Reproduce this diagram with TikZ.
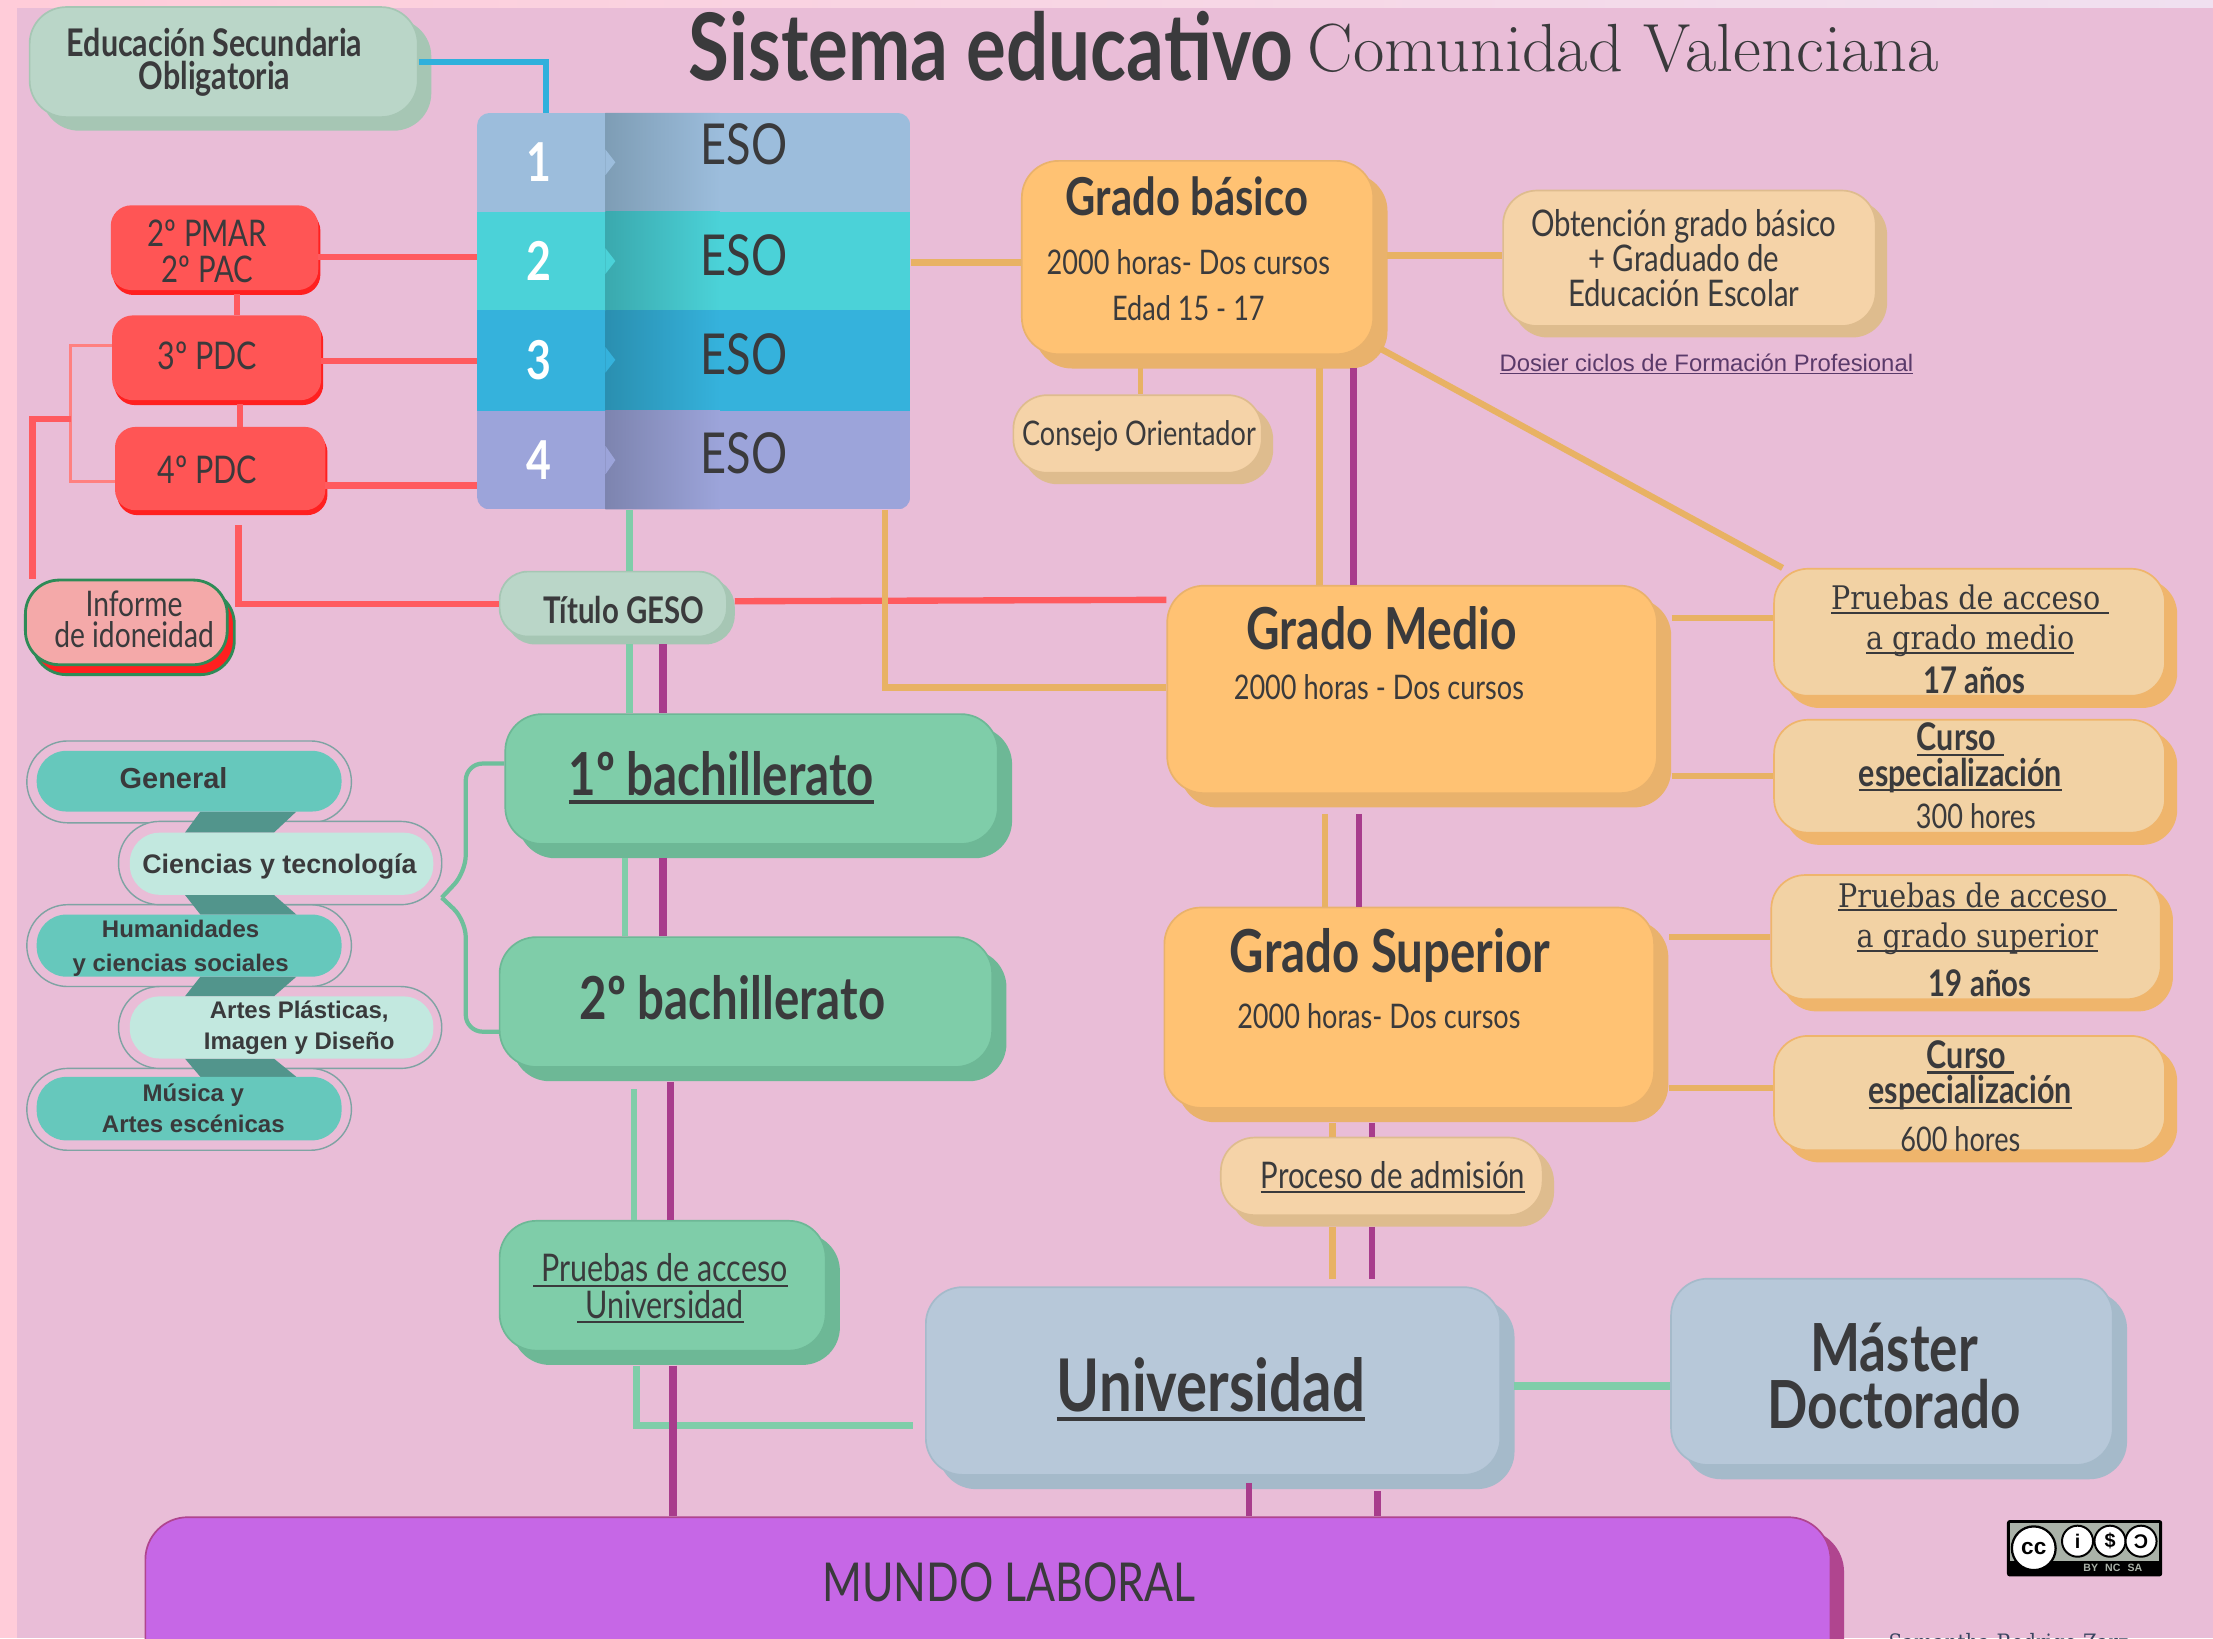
\documentclass[tikz,border=0pt]{standalone}
\usepackage{fontspec}
\usetikzlibrary{shadows,calc}
\newfontfamily\cnd[FakeStretch=0.8]{Lato}
\newfontfamily\hel{Liberation Sans}
\newfontfamily\slab[FakeStretch=0.88]{DejaVu Serif}
\definecolor{bgp}{HTML}{E9BDD7}
\definecolor{strip}{HTML}{FFCCD9}
\definecolor{ink}{HTML}{3A3A3C}
\definecolor{lorange}{HTML}{E8B264}
\definecolor{lred}{HTML}{FF5A5F}
\definecolor{lgreen}{HTML}{7FCDA9}
\definecolor{lpurple}{HTML}{A83C8C}
\newcommand\dc[1]{\definecolor{#1}{HTML}{#1}}
\dc{F0E0F0}\dc{9CBDDC}\dc{4BD2D8}\dc{35B2DC}\dc{9CA4DA}\dc{7E9DB5}\dc{3AA9AE}\dc{2A8FB0}\dc{7D84AF}\dc{52958C}
\dc{FFC273}\dc{E9B26C}\dc{F2D2A4}\dc{EFB56C}\dc{F5D3A8}\dc{DEBC8E}\dc{7FCDA9}\dc{6DB896}\dc{B7C8D9}\dc{A5BACA}
\dc{BAD6C8}\dc{A6C6B4}\dc{FF5555}\dc{FF2020}\dc{7FA3A3}\dc{F4A9A9}\dc{2E8B57}\dc{66C8BC}\dc{C2E8DF}\dc{5A3A6A}
\dc{C667E6}\dc{B0458F}\dc{2FB0DC}\dc{FF8080}\dc{6DBF9B}\dc{AAB2A8}\dc{3A4560}
\newcommand\fs[1]{\fontsize{#1}{#1}\selectfont}
\newcommand\myul[1]{\setbox0\hbox{#1}\rlap{\raisebox{-0.13em}{\rule{\wd0}{0.055em}}}\box0}
\newcommand\bx[6]{\node[#6,minimum width={(#4-#2)*1pt},minimum height={(#5-#3)*1pt}] (#1) at ({(#2+#4)/2},{(#3+#5)/2}) {};}
\newcommand\tx[5][]{\node[txt,#1] (#2) at (#3,#4) {#5};}
\tikzset{
 txt/.style={inner sep=0pt,align=center,text=ink,font=\cnd},
 card/.style n args={4}{rectangle,rounded corners=#3,inner sep=0pt,draw=#2,line width=1.2pt,fill=#1,
   general shadow={shadow xshift=#4,shadow yshift=-#4,fill=#2,draw=#2,opacity=1}},
 orangebig/.style={card={FFC273}{E9B26C}{26pt}{9.5pt}},
 orangemid/.style={card={F2D2A4}{EFB56C}{24pt}{8pt}},
 cream/.style={card={F5D3A8}{DEBC8E}{24pt}{7.5pt}},
 greenbox/.style={card={7FCDA9}{6DB896}{26pt}{9.5pt}},
 bluebox/.style={card={B7C8D9}{A5BACA}{26pt}{9.5pt}},
 mint/.style={card={BAD6C8}{A6C6B4}{26pt}{9pt}},
 redbox/.style={rectangle,rounded corners=14pt,inner sep=0pt,draw=FF5555,line width=1pt,fill=FF5555,
   general shadow={shadow xshift=1.5pt,shadow yshift=-3.5pt,fill=FF2020,draw=FF2020,opacity=1}},
 informe/.style={rectangle,rounded corners=24pt,inner sep=0pt,draw=2E8B57,line width=2pt,fill=F4A9A9,
   general shadow={shadow xshift=5pt,shadow yshift=-7pt,fill=FF2020,draw=2E8B57,opacity=1}},
 pilla/.style={rectangle,rounded corners=21pt,fill=#1,inner sep=0pt},
 pillb/.style={rectangle,rounded corners=29pt,draw=7FA3A3,line width=1pt,fill=bgp,inner sep=0pt},
 conn/.style={line width=4.5pt,#1},
}
\begin{document}
\begin{tikzpicture}[x=1pt,y=-1pt]
\useasboundingbox (0,0) rectangle (1568,1160.6);
\clip (0,0) rectangle (1568,1160.6);
\fill[bgp] (0,0) rectangle (1568,1160.6);
\fill[strip] (0,0) rectangle (12,1160.6);
\shade[left color=strip,right color=F0E0F0] (0,0) rectangle (1568,5);
% title
\tx{title}{702}{33}{\fs{66}\bfseries Sistema educativo}
\node[inner sep=0pt,text=ink] (subt) at (1150,34) {\fs{48.3}Comunidad Valenciana};
\bx{edu}{21}{5}{296}{83}{mint}
\tx[font=\cnd\bfseries\fs{27}]{edut}{152}{44}{Educación Secundaria\\[-4pt]Obligatoria}
% ESO table
\begin{scope}
 \clip[rounded corners=9pt] (338,80) rectangle (645,361);
 \fill[9CBDDC] (338,80) rectangle (645,150);
 \fill[4BD2D8] (338,150) rectangle (645,220);
 \fill[35B2DC] (338,220) rectangle (645,291);
 \fill[9CA4DA] (338,291) rectangle (645,361);
 \shade[left color=7E9DB5,right color=9CBDDC] (429,80) rectangle (510,150);
 \shade[left color=3AA9AE,right color=4BD2D8] (429,150) rectangle (510,220);
 \shade[left color=2A8FB0,right color=35B2DC] (429,220) rectangle (510,291);
 \shade[left color=7D84AF,right color=9CA4DA] (429,291) rectangle (510,361);
 \fill[9CBDDC] (429,106) -- (436,115) -- (429,124) -- cycle;
 \fill[4BD2D8] (429,176) -- (436,185) -- (429,194) -- cycle;
 \fill[35B2DC] (429,246) -- (436,255) -- (429,264) -- cycle;
 \fill[9CA4DA] (429,316) -- (436,326) -- (429,336) -- cycle;
\end{scope}
\node[inner sep=0pt,minimum width=307pt,minimum height=281pt] (table) at (491.5,220.5) {};
\node[txt,text=white] (n1) at (382,115) {\fs{38}\bfseries 1};
\node[txt,text=white] (n2) at (382,185) {\fs{38}\bfseries 2};
\node[txt,text=white] (n3) at (382,255) {\fs{38}\bfseries 3};
\node[txt,text=white] (n4) at (382,326) {\fs{38}\bfseries 4};
\tx{e1}{527}{102}{\fs{40}ESO}
\tx{e2}{527}{181}{\fs{40}ESO}
\tx{e3}{527}{251}{\fs{40}ESO}
\tx{e4}{527}{321}{\fs{40}ESO}
% red boxes
\bx{pmar}{79}{146}{225}{205}{redbox}
\bx{pdc3}{80}{224}{227}{283}{redbox}
\bx{pdc4}{82}{303}{230}{361}{redbox}
\tx[font=\cnd\fs{26}]{pmart}{147}{178}{2º PMAR\\[-1pt]2º PAC}
\tx{pdc3t}{147}{252}{\fs{27}3º PDC}
\tx{pdc4t}{147}{333}{\fs{27}4º PDC}
\bx{inf}{18}{411}{161}{471}{informe}
\tx[font=\cnd\fs{25}]{inft}{95}{439}{Informe\\[-3pt]de idoneidad}
\bx{geso}{354}{405}{515}{451}{card={BAD6C8}{A6C6B4}{20pt}{5pt}}
\tx{gesot}{442}{432}{\fs{26}\bfseries Título GESO}
% orientation pills
\bx{po1}{19}{525}{249}{583}{pillb}
\bx{po3}{19}{641}{249}{699}{pillb}
\bx{po5}{19}{757}{249}{815}{pillb}
\bx{po2}{84}{582}{313}{641}{pillb}
\bx{po4}{84}{699}{313}{757}{pillb}
\fill[52958C] (142,575) -- (210,575) -- (194,590) -- (131,590) -- cycle;
\fill[52958C] (131,634) -- (194,634) -- (210,648) -- (142,648) -- cycle;
\fill[52958C] (142,692) -- (210,692) -- (194,706) -- (131,706) -- cycle;
\fill[52958C] (131,750) -- (194,750) -- (210,763) -- (142,763) -- cycle;
\bx{p1}{26}{532}{242}{575}{pilla=66C8BC}
\bx{p2}{92}{590}{307}{634}{pilla=C2E8DF}
\bx{p3}{26}{648}{242}{692}{pilla=66C8BC}
\bx{p4}{92}{706}{307}{750}{pilla=C2E8DF}
\bx{p5}{26}{763}{242}{808}{pilla=66C8BC}
\node[txt,font=\hel\bfseries] (p1t) at (123,551) {\fs{20.5}General};
\node[txt,font=\hel\bfseries] (p2t) at (198,614) {\fs{19}Ciencias y tecnología};
\node[txt,font=\hel\bfseries\fs{17}] (p3t) at (128,672) {Humanidades\\[7pt]y ciencias sociales};
\node[txt,font=\hel\bfseries\fs{17}] (p4t) at (212,728) {Artes Plásticas,\\[5pt]Imagen y Diseño};
\node[txt,font=\hel\bfseries\fs{17}] (p5t) at (137,785) {Música y\\[5pt]Artes escénicas};
% bachillerato
\bx{b1}{358}{506}{707}{598}{greenbox}
\bx{b2}{354}{664}{703}{756}{greenbox}
\tx{b1t}{511}{551}{\fs{42}\bfseries\myul{1º bachillerato}}
\tx{b2t}{519}{707}{\fs{42}\bfseries 2º bachillerato}
\bx{pau}{354}{865}{585}{957}{greenbox}
\tx[font=\cnd\fs{27}]{paut}{468}{913}{\myul{ Pruebas de acceso}\\[-1pt]\myul{ Universidad}}
% grades
\bx{gb}{724}{114}{973}{251}{orangebig}
\tx{gbt}{841}{139}{\fs{37}\bfseries Grado básico}
\tx[font=\cnd\fs{24}]{gbs}{842}{202}{2000 horas- Dos cursos\\[8pt]Edad 15 - 17}
\bx{obt}{1065}{135}{1329}{231}{cream}
\tx[font=\cnd\fs{26}]{obtt}{1193}{183}{Obtención grado básico\\[-1pt]+ Graduado de\\[-1pt]Educación Escolar}
\node[txt,font=\hel,text=5A3A6A] (dos) at (1209,258) {\fs{16.9}\myul{Dosier ciclos de Formación Profesional}};
\bx{con}{718}{280}{894}{335}{cream}
\tx{cont}{807}{309}{\fs{24}Consejo Orientador}
\bx{gm}{827}{415}{1174}{562}{orangebig}
\tx{gmt}{979}{445}{\fs{41}\bfseries Grado Medio}
\tx{gms}{977}{487}{\fs{24}2000 horas - Dos cursos}
\bx{gs}{825}{643}{1172}{785}{orangebig}
\tx{gst}{985}{677}{\fs{42}\bfseries Grado Superior}
\tx{gss}{977}{720}{\fs{24}2000 horas- Dos cursos}
\bx{pgm}{1257}{403}{1534}{493}{orangemid}
\node[txt,font=\slab\fs{23}] (pgmt) at (1396,440) {\myul{Pruebas de acceso }\\[5pt]\myul{a grado medio}};
\tx{pgma}{1399}{482}{\fs{26}\bfseries 17 años}
\bx{c3}{1257}{510}{1534}{590}{orangemid}
\tx[font=\cnd\bfseries\fs{27}]{c3t}{1389}{537}{\myul{Curso }\\[-2pt]\myul{especialización}}
\tx{c3h}{1400}{578}{\fs{24}300 hores}
\bx{pgs}{1255}{620}{1531}{708}{orangemid}
\node[txt,font=\slab\fs{23}] (pgst) at (1401,651) {\myul{Pruebas de acceso }\\[6pt]\myul{a grado superior}};
\tx{pgsa}{1403}{697}{\fs{26}\bfseries 19 años}
\bx{c6}{1257}{734}{1534}{815}{orangemid}
\tx[font=\cnd\bfseries\fs{27}]{c6t}{1396}{762}{\myul{Curso }\\[-2pt]\myul{especialización}}
\tx{c6h}{1389}{807}{\fs{24}600 hores}
\bx{adm}{865}{806}{1093}{861}{cream}
\tx{admt}{987}{834}{\fs{26}\myul{Proceso de admisión}}
\bx{uni}{656}{912}{1063}{1045}{bluebox}
\tx{unit}{858}{984}{\fs{51.5}\bfseries\myul{Universidad}}
\bx{mas}{1184}{906}{1497}{1038}{bluebox}
\tx[font=\cnd\bfseries\fs{47}]{mast}{1342}{975}{Máster\\[-7pt]Doctorado}
\bx{lab}{103}{1075}{1297}{1200}{card={C667E6}{B0458F}{30pt}{9pt}}
\tx{labt}{715}{1121}{\fs{38}MUNDO LABORAL}
% connectors
\draw[conn=2FB0DC] (edu.east |- 0,44) -| (table.north -| 387,0);
\draw[conn=lred] (pmar.east |- 0,182) -- (table.west |- 0,182);
\draw[conn=lred] (pdc3.east |- 0,256) -- (table.west |- 0,256);
\draw[conn=lred] (pdc4.east |- 0,344) -- (table.west |- 0,344);
\draw[conn=lred] (pmar.south -| 168,0) ++(0,3) -- (pdc3.north -| 168,0);
\draw[conn=lred] (pdc3.south -| 170,0) ++(0,3) -- (pdc4.north -| 170,0);
\draw[line width=2pt,FF8080] (pdc3.west |- 0,245) -| (50,341) -- (pdc4.west |- 0,341);
\coordinate (junc) at (50,297);
\draw[conn=lred] (junc) -| (inf.north -| 23,0);
\coordinate (r1) at (169,372);
\draw[conn=lred] (r1) |- (geso.west |- 0,428);
\draw[conn=lred] (geso.east |- 0,426) ++(5,0) -- (gm.west |- 0,425);
\draw[conn=lgreen] (table.south -| 446,0) -- (geso.north -| 446,0);
\draw[conn=lgreen] (geso.south -| 446,0) ++(0,5) -- (b1.north -| 446,0);
\draw[conn=lpurple,line width=5.5pt] (geso.south -| 470,0) ++(0,5) -- (b1.north -| 470,0);
\draw[conn=lorange] (table.south -| 627,0) |- (gm.west |- 0,487);
\draw[conn=lgreen] (b1.south -| 443,0) ++(0,9) -- (b2.north -| 443,0);
\draw[conn=lpurple,line width=5.5pt] (b1.south -| 470,0) ++(0,9) -- (b2.north -| 470,0);
\draw[conn=lgreen] (b2.south -| 449,0) ++(0,15) -- (pau.north -| 449,0);
\draw[conn=lpurple,line width=5.5pt] (b2.south -| 475,0) ++(0,10) -- (pau.north -| 475,0);
\coordinate (ul) at (647,1010);
\draw[conn=lgreen] (pau.south -| 451,0) ++(0,10) |- (ul);
\draw[conn=lpurple,line width=5.5pt] (pau.south -| 477,0) ++(0,10) -- (lab.north -| 477,0);
\draw[line width=3pt,6DBF9B,rounded corners=12pt] (b1.west |- 0,541) -| (330,618) -- (313,636);
\draw[line width=3pt,6DBF9B,rounded corners=12pt] (313,636) -- (330,652) |- (b2.west |- 0,731);
\draw[conn=lorange] (table.east |- 0,186) -- (gb.west |- 0,186);
\draw[conn=lorange] (gb.east |- 0,181) ++(9,0) -- (obt.west |- 0,181);
\draw[conn=lorange,line width=4pt] (gb.south -| 808,0) ++(0,9) -- (con.north -| 808,0);
\draw[conn=lorange] (gb.south -| 935,0) ++(0,9) -- (gm.north -| 935,0);
\draw[conn=lpurple] (gb.south -| 959,0) ++(0,9) -- (gm.north -| 959,0);
\coordinate (diag) at (978,247);
\draw[conn=lorange] (diag) -- (pgm.north -| 1263,0);
\draw[conn=lorange] (gm.east |- 0,438) ++(10,0) -- (pgm.west |- 0,438);
\draw[conn=lorange] (gm.east |- 0,550) ++(10,0) -- (c3.west |- 0,550);
\draw[conn=lorange] (gs.east |- 0,664) ++(10,0) -- (pgs.west |- 0,664);
\draw[conn=lorange] (gs.east |- 0,771) ++(10,0) -- (c6.west |- 0,771);
\draw[conn=lorange] (gm.south -| 939,0) ++(0,14) -- (gs.north -| 939,0);
\draw[conn=lpurple] (gm.south -| 963,0) ++(0,14) -- (gs.north -| 963,0);
\draw[conn=lorange] (gs.south -| 944,0) ++(0,10) -- (adm.north -| 944,0);
\draw[conn=lpurple] (gs.south -| 972,0) ++(0,10) -- (adm.north -| 972,0);
\coordinate (ua) at (944,906);
\coordinate (ub) at (972,906);
\draw[conn=lorange] (adm.south -| 944,0) ++(0,8) -- (ua);
\draw[conn=lpurple] (adm.south -| 972,0) ++(0,8) -- (ub);
\draw[conn=lgreen,line width=6pt] (uni.east |- 0,982) ++(9,0) -- (mas.west |- 0,982);
\draw[conn=lpurple] (uni.south -| 885,0) ++(0,5) -- (lab.north -| 885,0);
\draw[conn=lpurple] (uni.south -| 976,0) ++(0,11) -- (lab.north -| 976,0);
% licence badge
\node[rectangle,rounded corners=2pt,fill=black,inner sep=0pt,minimum width=110pt,minimum height=40pt] (cc) at (1477,1097) {};
\fill[AAB2A8] (1424,1079) rectangle (1530,1106);
\node[circle,fill=white,draw=black,line width=1.6pt,minimum size=31pt,inner sep=0pt,font=\hel\bfseries] (cc1) at (1441,1097) {\fs{16}cc};
\node[circle,fill=white,draw=black,line width=1.4pt,minimum size=22pt,inner sep=0pt,font=\hel\bfseries] (cc2) at (1472,1092) {\fs{14}i};
\node[circle,fill=white,draw=black,line width=1.4pt,minimum size=22pt,inner sep=0pt,font=\hel\bfseries] (cc3) at (1495,1092) {\fs{14}\$};
\node[circle,fill=white,draw=black,line width=1.4pt,minimum size=22pt,inner sep=0pt,font=\hel\bfseries] (cc4) at (1517,1092) {\fs{14}\reflectbox{C}};
\node[inner sep=0pt,text=AAB2A8,font=\hel\bfseries] (cc5) at (1497,1111) {\fs{7.5}BY\hspace{5pt}NC\hspace{5pt}SA};
\node[anchor=west,inner sep=0pt,text=3A4560,font=\slab] (auth) at (1338,1165) {\fs{16}Samantha Rodrigo Zarz};
\end{tikzpicture}
\end{document}
